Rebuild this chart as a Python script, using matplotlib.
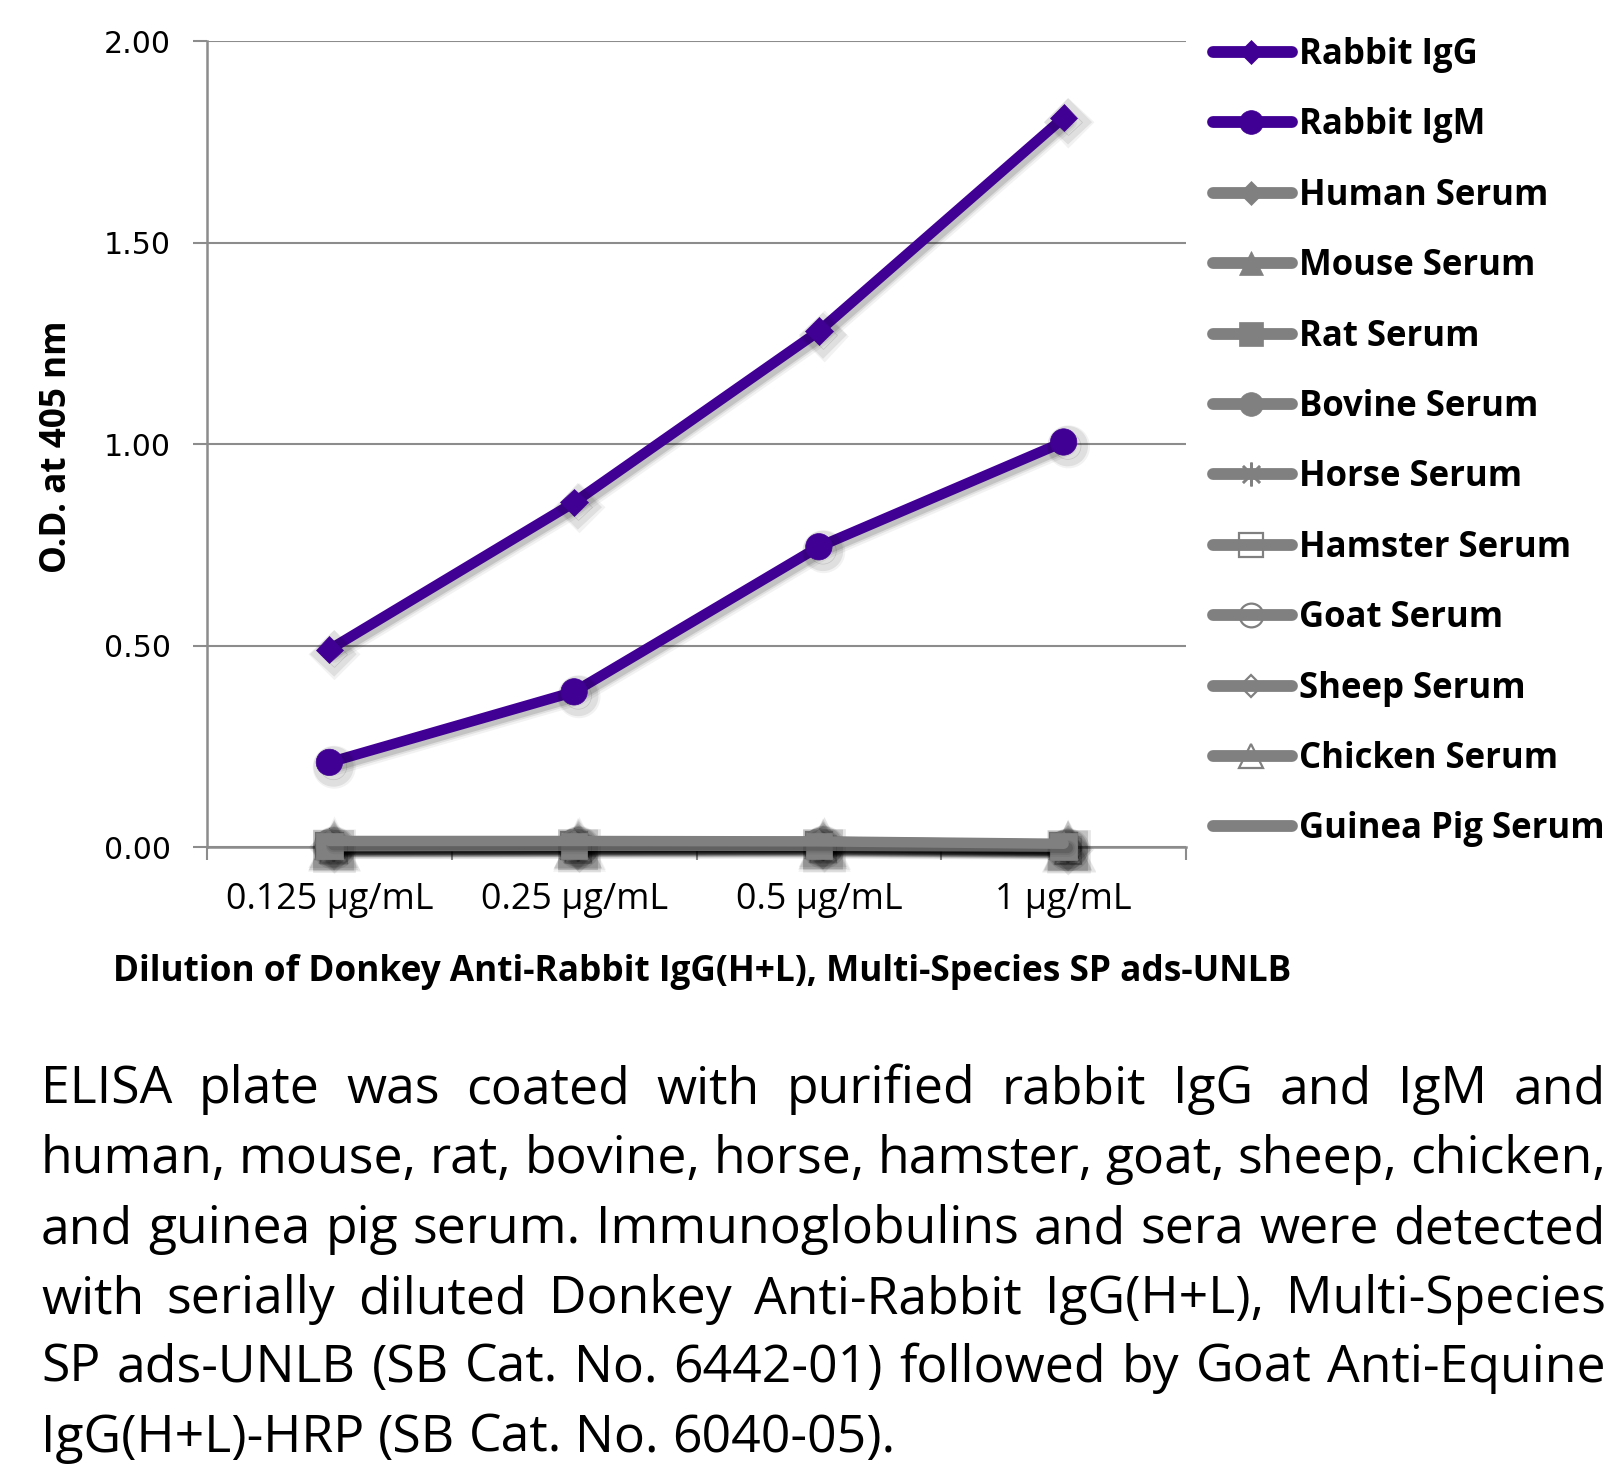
import numpy as np
import matplotlib
matplotlib.use("Agg")
import matplotlib.pyplot as plt
import matplotlib.patheffects as pe
from matplotlib.lines import Line2D

# ---- data -------------------------------------------------------------
doses = ['0.125 µg/mL', '0.25 µg/mL', '0.5 µg/mL', '1 µg/mL']

series_names = ['Rabbit IgG', 'Rabbit IgM', 'Human Serum', 'Mouse Serum',
                'Rat Serum', 'Bovine Serum', 'Horse Serum', 'Hamster Serum',
                'Goat Serum', 'Sheep Serum', 'Chicken Serum', 'Guinea Pig Serum']

rabbit_igg = [0.49, 0.855, 1.28, 1.81]
rabbit_igm = [0.21, 0.385, 0.745, 1.005]
human_serum = [0.012, 0.012, 0.013, 0.006]
mouse_serum = [0.008, 0.009, 0.010, 0.004]
rat_serum = [0.002, 0.003, 0.003, 0.001]
bovine_serum = [0.010, 0.011, 0.012, 0.005]
horse_serum = [0.006, 0.007, 0.008, 0.003]
hamster_serum = [0.003, 0.004, 0.005, 0.002]
goat_serum = [0.009, 0.010, 0.011, 0.005]
sheep_serum = [0.007, 0.008, 0.009, 0.004]
chicken_serum = [0.004, 0.005, 0.006, 0.002]
guinea_pig_serum = [0.015, 0.015, 0.014, 0.008]

y_ticks = [0.0, 0.5, 1.0, 1.5, 2.0]

caption_lines = [
    "ELISA plate was coated with purified rabbit IgG and IgM and",
    "human, mouse, rat, bovine, horse, hamster, goat, sheep, chicken,",
    "and guinea pig serum.  Immunoglobulins and sera were detected",
    "with serially diluted Donkey Anti-Rabbit IgG(H+L), Multi-Species",
    "SP ads-UNLB (SB Cat. No. 6442-01) followed by Goat Anti-Equine",
    "IgG(H+L)-HRP (SB Cat. No. 6040-05).",
]

# ---- styles -----------------------------------------------------------
PURPLE = '#400093'
GREY = '#808080'
ASTER = (8, 2, 0)
# (color, marker, filled, markersize, zorder)
styles = [
    (PURPLE, 'D', True, 14, 4),
    (PURPLE, 'o', True, 19, 4),
    (GREY, 'D', True, 14, 3),
    (GREY, '^', True, 19, 3),
    (GREY, 's', True, 19, 3.6),
    (GREY, 'o', True, 19, 3),
    (GREY, ASTER, True, 19, 3.5),
    (GREY, 's', False, 19, 3),
    (GREY, 'o', False, 19, 3),
    (GREY, 'D', False, 13, 3),
    (GREY, '^', False, 19, 3),
    (GREY, None, True, 0, 3.7),
]
all_values = [rabbit_igg, rabbit_igm, human_serum, mouse_serum, rat_serum,
              bovine_serum, horse_serum, hamster_serum, goat_serum,
              sheep_serum, chicken_serum, guinea_pig_serum]

W, H = 1620, 1468
fig = plt.figure(figsize=(W / 100, H / 100), dpi=100)
renderer = fig.canvas.get_renderer()

SANS = 'Open Sans'


def fit_size(s, target_px, **kw):
    # font size that makes text s exactly target_px wide
    t = fig.text(0, 0, s, fontsize=20, **kw)
    w = t.get_window_extent(renderer).width
    t.remove()
    return 20.0 * target_px / w


def fx(px):
    return px / W


def fy(py):
    return 1 - py / H


def edge_width(mk, filled):
    if mk == ASTER:
        return 1.8
    if not filled:
        return 1.6
    return 0.5


# ---- axes -------------------------------------------------------------
ax_l, ax_r, ax_t, ax_b = 207, 1186, 41, 847
ax = fig.add_axes([fx(ax_l), fy(ax_b), fx(ax_r - ax_l), (ax_b - ax_t) / H])

x = np.arange(len(doses))
# soft drop shadow: a few widened, faint copies offset down-right
shadow = [pe.SimpleLineShadow(offset=(3.5, -3.5), shadow_color='black', alpha=0.05, linewidth=12),
          pe.SimpleLineShadow(offset=(3, -3), shadow_color='black', alpha=0.08, linewidth=10),
          pe.SimpleLineShadow(offset=(3, -3), shadow_color='black', alpha=0.12),
          pe.Normal()]
for vals, (col, mk, filled, ms, z) in zip(all_values, styles):
    ax.plot(x, vals, color=col, lw=7.5, marker=mk, markersize=ms,
            markerfacecolor=col if filled else 'none',
            markeredgecolor=col, markeredgewidth=edge_width(mk, filled),
            solid_capstyle='round', solid_joinstyle='round',
            path_effects=shadow, zorder=z, clip_on=False)

ax.set_xlim(-0.5, len(doses) - 0.5)
ax.set_ylim(0, 2)
ax.set_yticks(y_ticks)
ysize = fit_size('2.00', 67, family='DejaVu Sans')
ax.set_yticklabels(['%.2f' % v for v in y_ticks], fontsize=ysize, family='DejaVu Sans')
ax.yaxis.grid(True, color='#8c8c8c', lw=1.5, zorder=0)
ax.set_axisbelow(True)

ax.set_xticks(np.arange(-0.5, len(doses), 1.0))
ax.set_xticklabels([])
ax.set_xticks(x, minor=True)
xsize = fit_size(doses[0], 207, family=SANS)
ax.set_xticklabels(doses, minor=True, fontsize=xsize, family=SANS)
ax.tick_params(axis='x', which='major', length=9, width=1.5, color='#8c8c8c', direction='out')
ax.tick_params(axis='x', which='minor', length=0, pad=25)
ax.tick_params(axis='y', length=10, width=1.5, color='#8c8c8c', pad=16)

for side in ['top', 'right']:
    ax.spines[side].set_visible(False)
ax.spines['left'].set_color('#8c8c8c')
ax.spines['left'].set_linewidth(1.8)
ax.spines['bottom'].set_color('#8c8c8c')
ax.spines['bottom'].set_linewidth(1.8)

# axis titles
xl = 'Dilution of Donkey Anti-Rabbit IgG(H+L), Multi-Species SP ads-UNLB'
xl_size = fit_size(xl, 1181, family=SANS, weight='bold')
fig.text(fx(702), fy(972), xl, fontsize=xl_size, family=SANS, weight='bold',
         ha='center', va='center')
yl = 'O.D. at 405 nm'
yl_size = fit_size(yl, 253, family=SANS, weight='bold')
fig.text(fx(57), fy(447), yl, fontsize=yl_size, family=SANS, weight='bold',
         rotation=90, ha='center', va='center')

# ---- legend -----------------------------------------------------------
leg_size = fit_size('Guinea Pig Serum', 306, family=SANS, weight='bold')
for i, (name, (col, mk, filled, ms, z)) in enumerate(zip(series_names, styles)):
    y = 52 + i * 70.4
    fig.add_artist(Line2D([fx(1213), fx(1292)], [fy(y), fy(y)], color=col, lw=8.5,
                          solid_capstyle='round', transform=fig.transFigure))
    if mk is not None:
        fig.add_artist(Line2D([fx(1251)], [fy(y)], marker=mk, markersize=ms * 0.9,
                              markerfacecolor=col if filled else 'none',
                              markeredgecolor=col,
                              markeredgewidth=edge_width(mk, filled),
                              transform=fig.transFigure))
    fig.text(fx(1299), fy(y + 12), name, fontsize=leg_size, family=SANS,
             weight='bold', ha='left', va='baseline')

# ---- caption (justified) ----------------------------------------------
cap_l, cap_r = 41, 1606
cap_w = cap_r - cap_l
cap_size = min(fit_size(s, cap_w, family=SANS) for s in caption_lines)
baselines = [1103, 1173, 1243, 1313, 1382, 1452]
for k, (line, yb) in enumerate(zip(caption_lines, baselines)):
    words = line.split()
    widths = []
    for w_ in words:
        t = fig.text(0, 0, w_, fontsize=cap_size, family=SANS)
        widths.append(t.get_window_extent(renderer).width)
        t.remove()
    if k == len(caption_lines) - 1:
        sp = fig.text(0, 0, 'a a', fontsize=cap_size, family=SANS)
        sw = sp.get_window_extent(renderer).width
        sp.remove()
        aa = fig.text(0, 0, 'aa', fontsize=cap_size, family=SANS)
        gap = sw - aa.get_window_extent(renderer).width
        aa.remove()
    else:
        gap = (cap_w - sum(widths)) / (len(words) - 1)
    xpos = cap_l
    for w_, ww in zip(words, widths):
        fig.text(fx(xpos), fy(yb), w_, fontsize=cap_size, family=SANS,
                 ha='left', va='baseline')
        xpos += ww + gap

fig.savefig('out.png', dpi=100)
